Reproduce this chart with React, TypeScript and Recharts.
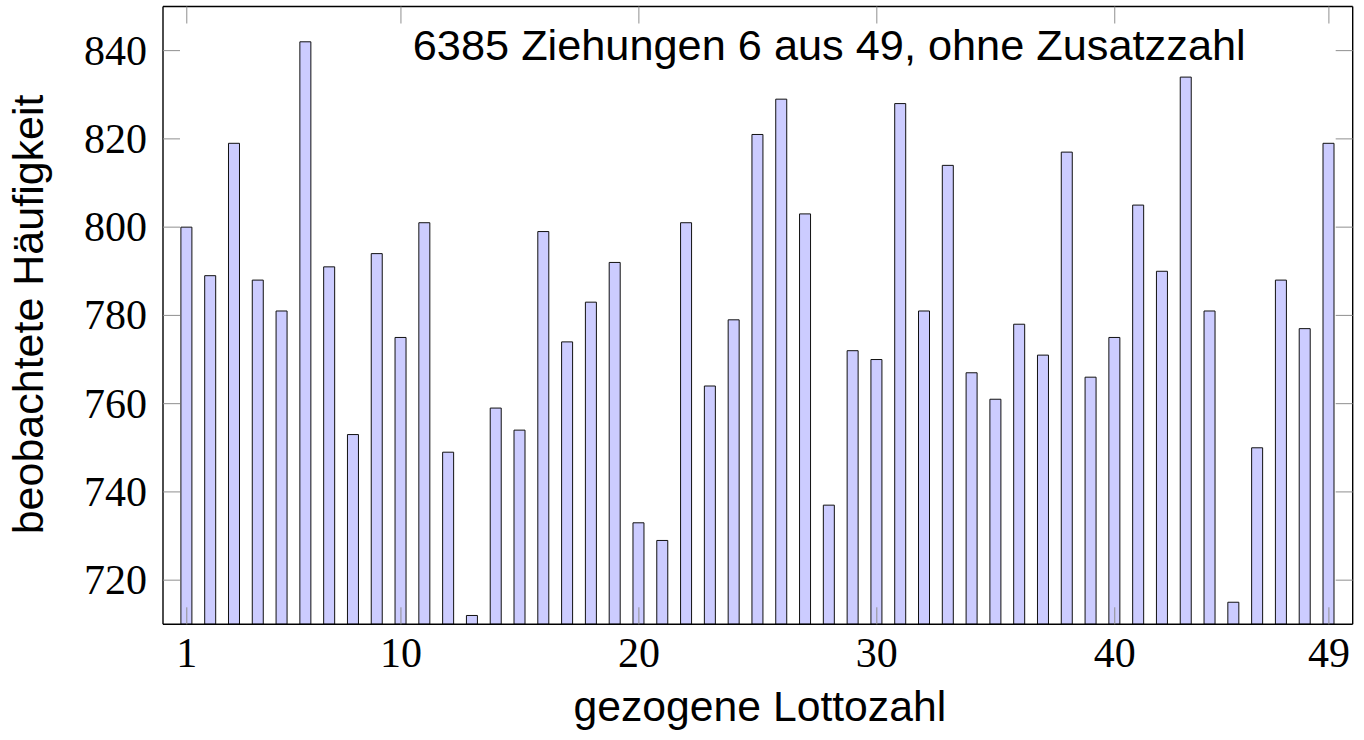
import React from 'react';
import { ComposedChart, Bar, Line, XAxis, YAxis, Label } from 'recharts';

const lottoNumbers = [
  1, 2, 3, 4, 5, 6, 7, 8, 9, 10,
  11, 12, 13, 14, 15, 16, 17, 18, 19, 20,
  21, 22, 23, 24, 25, 26, 27, 28, 29, 30,
  31, 32, 33, 34, 35, 36, 37, 38, 39, 40,
  41, 42, 43, 44, 45, 46, 47, 48, 49,
];
const drawCounts = [
  800, 789, 819, 788, 781, 842, 791, 753, 794, 775,
  801, 749, 712, 759, 754, 799, 774, 783, 792, 733,
  729, 801, 764, 779, 821, 829, 803, 737, 772, 770,
  828, 781, 814, 767, 761, 778, 771, 817, 766, 775,
  805, 790, 834, 781, 715, 750, 788, 777, 819,
];
const xTicks = [1, 10, 20, 30, 40, 49];
const yTicks = [720, 740, 760, 780, 800, 820, 840];
const xDomain = [0, 50];
const yDomain = [710, 850];
const titleText = '6385 Ziehungen 6 aus 49, ohne Zusatzzahl';
const xLabelText = 'gezogene Lottozahl';
const yLabelText = 'beobachtete Häufigkeit';

const data = lottoNumbers.map((n, i) => ({ n, count: drawCounts[i] }));

const W = 1364;
const H = 740;
const margin = { top: 5.5, right: 10.3, left: 13, bottom: 15.7 };
const Y_AXIS_W = 150;
const X_AXIS_H = 100;
const TICK_LEN = 17;
const TICK_COLOR = '#8f8f8f';
const serif = '"Liberation Serif", "Times New Roman", serif';
const sans = '"Liberation Sans", Arial, Helvetica, sans-serif';

const LeftTick = (props: any) => {
  const { x, y, payload } = props;
  return (
    <g>
      <line x1={x} x2={x + TICK_LEN} y1={y} y2={y} stroke={TICK_COLOR} strokeWidth={1} />
      <text x={x - 16} y={y + 14} textAnchor="end" fontFamily={serif} fontSize={42} fill="#000">
        {payload.value}
      </text>
    </g>
  );
};

const RightTick = (props: any) => {
  const { x, y } = props;
  return <line x1={x - TICK_LEN} x2={x} y1={y} y2={y} stroke={TICK_COLOR} strokeWidth={1} />;
};

const BottomTick = (props: any) => {
  const { x, y, payload } = props;
  return (
    <g>
      <line x1={x} x2={x} y1={y - TICK_LEN} y2={y} stroke={TICK_COLOR} strokeWidth={1} />
      <text x={x} y={y + 42.7} textAnchor="middle" fontFamily={serif} fontSize={42} fill="#000">
        {payload.value}
      </text>
    </g>
  );
};

const TopTick = (props: any) => {
  const { x, y } = props;
  return <line x1={x} x2={x} y1={y} y2={y + TICK_LEN} stroke={TICK_COLOR} strokeWidth={1} />;
};

const frameLine = { stroke: '#000', strokeWidth: 1.4 };

export default function App() {
  return (
    <div style={{ position: 'absolute', left: 0, top: 0, width: W, height: H, background: '#fff' }}>
      <ComposedChart width={W} height={H} data={data} margin={margin}>
        <Bar
          xAxisId="b"
          yAxisId="l"
          dataKey="count"
          fill="#ccccff"
          stroke="#111"
          strokeWidth={1}
          barSize={11}
          isAnimationActive={false}
        />
        <Line
          xAxisId="t"
          yAxisId="r"
          dataKey="count"
          stroke="none"
          dot={false}
          activeDot={false}
          legendType="none"
          isAnimationActive={false}
        />
        <XAxis
          xAxisId="b"
          type="number"
          dataKey="n"
          domain={xDomain}
          ticks={xTicks}
          allowDataOverflow
          interval={0}
          height={X_AXIS_H}
          tickSize={0}
          tickLine={false}
          tickMargin={0}
          axisLine={frameLine}
          tick={BottomTick}
        >
          <Label
            content={(p: any) => {
              const vb = p.viewBox || { x: 163, y: 624.3, width: 1189.7 };
              return (
                <text
                  x={vb.x + vb.width / 2 + 2}
                  y={vb.y + 96.7}
                  textAnchor="middle"
                  fontFamily={sans}
                  fontSize={42.7}
                  fill="#000"
                >
                  {xLabelText}
                </text>
              );
            }}
          />
        </XAxis>
        <XAxis
          xAxisId="t"
          orientation="top"
          type="number"
          dataKey="n"
          domain={xDomain}
          ticks={xTicks}
          allowDataOverflow
          interval={0}
          height={1}
          tickSize={0}
          tickLine={false}
          tickMargin={0}
          axisLine={frameLine}
          tick={TopTick}
        >
          <Label
            content={(p: any) => {
              const vb = p.viewBox || { x: 163, y: 5.5, width: 1189.7, height: 1 };
              return (
                <text
                  x={vb.x + vb.width * 0.56}
                  y={vb.y + vb.height + 53.5}
                  textAnchor="middle"
                  fontFamily={sans}
                  fontSize={43.3}
                  fill="#000"
                >
                  {titleText}
                </text>
              );
            }}
          />
        </XAxis>
        <YAxis
          yAxisId="l"
          type="number"
          domain={yDomain}
          ticks={yTicks}
          allowDataOverflow
          interval={0}
          width={Y_AXIS_W}
          tickSize={0}
          tickLine={false}
          tickMargin={0}
          axisLine={frameLine}
          tick={LeftTick}
        >
          <Label
            content={(p: any) => {
              const vb = p.viewBox || { x: 13, y: 6.5, height: 617.8 };
              const cx = vb.x + 30;
              const cy = vb.y + vb.height / 2 - 1;
              return (
                <text
                  x={cx}
                  y={cy}
                  transform={`rotate(-90, ${cx}, ${cy})`}
                  textAnchor="middle"
                  fontFamily={sans}
                  fontSize={43}
                  fill="#000"
                >
                  {yLabelText}
                </text>
              );
            }}
          />
        </YAxis>
        <YAxis
          yAxisId="r"
          orientation="right"
          type="number"
          domain={yDomain}
          ticks={yTicks}
          allowDataOverflow
          interval={0}
          width={1}
          tickSize={0}
          tickLine={false}
          tickMargin={0}
          axisLine={frameLine}
          tick={RightTick}
        />
      </ComposedChart>
    </div>
  );
}
